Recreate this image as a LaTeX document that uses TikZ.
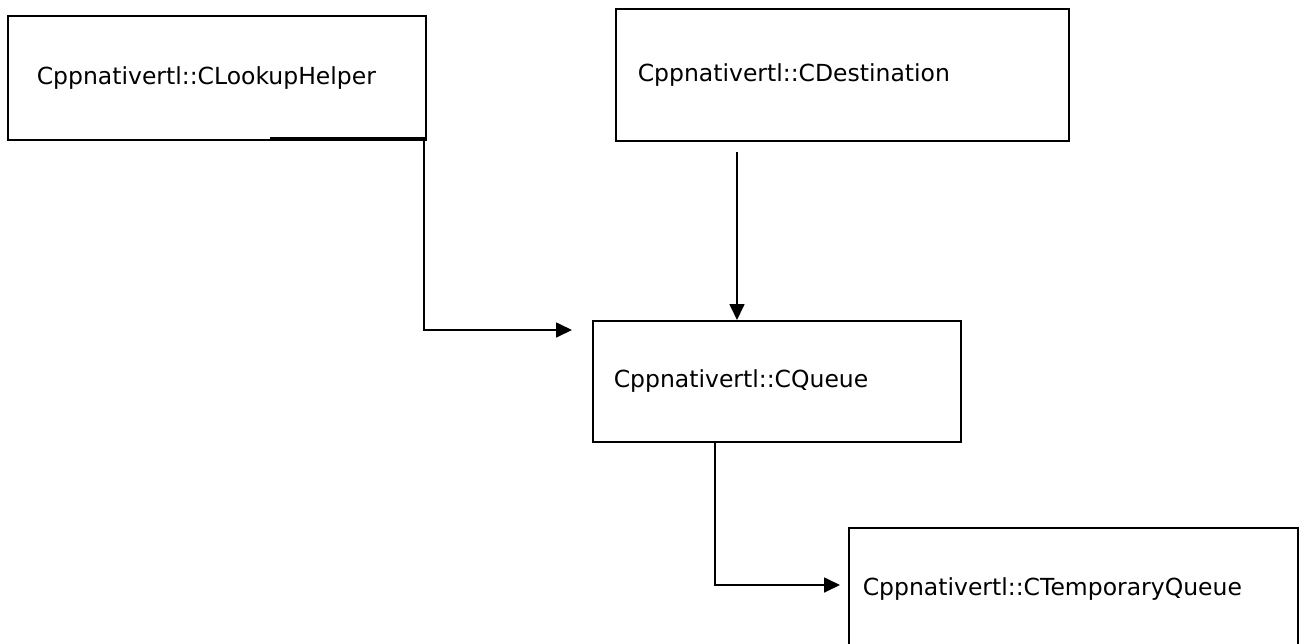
\documentclass[tikz,border=0pt]{standalone}
\usepackage{fontspec}
\setmainfont{DejaVu Sans}
\usetikzlibrary{arrows.meta}
\tikzset{
	classbox/.style={draw,line width=1.6pt,rectangle,anchor=north west,align=left,font=\fontsize{23.5}{28}\selectfont},
	link/.style={line width=1.7pt,-{Triangle[length=16pt,width=15pt]}}
}
\begin{document}
\begin{tikzpicture}[x=1pt,y=-1pt]
	\useasboundingbox (0,0) rectangle (1301,643);
	% classes
	\node[classbox,inner xsep=29pt,text width=360pt,minimum height=124pt] (lookup) at (7,15) {Cppnativertl::CLookupHelper};
	\node[classbox,inner xsep=22pt,text width=409pt,minimum height=132pt] (dest) at (615,8) {Cppnativertl::CDestination};
	\node[classbox,inner xsep=21pt,text width=326pt,minimum height=121pt] (queue) at (592,320) {Cppnativertl::CQueue};
	\node[classbox,inner xsep=14pt,text width=421pt,minimum height=122pt] (tmpqueue) at (848,527) {Cppnativertl::CTemporaryQueue};
	% links
	\coordinate (lhstart) at (270,138);
	\coordinate (qin) at (572,330);
	\coordinate (dstart) at (737,152);
	\coordinate (qout) at (715,0);
	\coordinate (tqin) at (840,585);
	\draw[line width=2.8pt] (lhstart) -- (lhstart -| lookup.east);
	\draw[link] ([xshift=-2.5pt]lookup.south east) |- (qin);
	\draw[link] (dstart) -- (dstart |- queue.north);
	\draw[link] (queue.south -| qout) |- (tqin);
\end{tikzpicture}
\end{document}
